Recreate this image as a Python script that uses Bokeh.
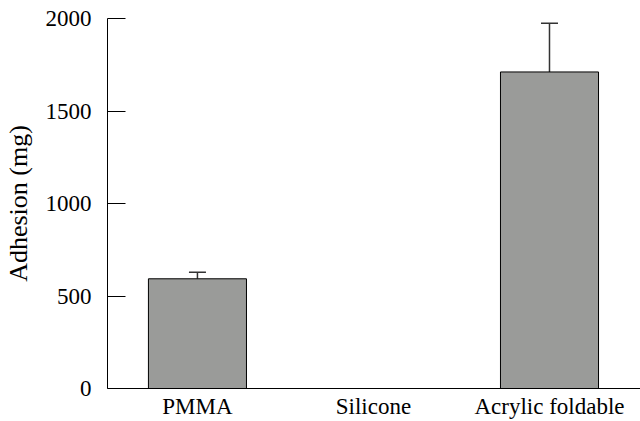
from bokeh.plotting import figure
from bokeh.models import ColumnDataSource, Range1d, FixedTicker, Whisker, TeeHead
from bokeh.embed import file_html
from bokeh.resources import INLINE

categories = ["PMMA", "Silicone", "Acrylic foldable"]
adhesion = [593, 0, 1711]
error_upper = [629, 0, 1974]
y_ticks = [0, 500, 1000, 1500, 2000]

xs = list(range(len(categories)))
has_err = [u > v for u, v in zip(error_upper, adhesion)]
src = ColumnDataSource(dict(x=xs, top=adhesion))
err_src = ColumnDataSource(dict(
    x=[x for x, h in zip(xs, has_err) if h],
    lower=[v for v, h in zip(adhesion, has_err) if h],
    upper=[u for u, h in zip(error_upper, has_err) if h],
))

FONT = "Liberation Serif"

p = figure(width=640, height=421, output_backend="svg", toolbar_location=None,
           x_range=Range1d(-0.511, 2.517), y_range=Range1d(0, 2000),
           min_border_left=107, min_border_right=0, min_border_top=18, min_border_bottom=33)
p.outline_line_color = None
p.xgrid.visible = False
p.ygrid.visible = False
p.background_fill_color = "white"
p.border_fill_color = "white"

p.vbar(x="x", top="top", width=0.557, bottom=0, source=src,
       fill_color="#9a9b99", line_color="black", line_width=1)

w = Whisker(base="x", lower="lower", upper="upper", source=err_src, dimension="height",
            line_color="#333333", line_width=1.5,
            upper_head=TeeHead(size=17, line_color="#333333", line_width=1.5),
            lower_head=None)
p.add_layout(w)

# y axis
ya = p.yaxis[0]
ya.ticker = FixedTicker(ticks=y_ticks)
ya.axis_label = "Adhesion (mg)"
ya.axis_label_text_font = FONT
ya.axis_label_text_font_size = "26px"
ya.axis_label_text_font_style = "normal"
ya.axis_label_text_color = "black"
ya.axis_label_standoff = 10
ya.major_label_text_font = FONT
ya.major_label_text_font_size = "23px"
ya.major_label_text_color = "black"
ya.major_label_standoff = 16
ya.major_tick_in = 18
ya.major_tick_out = 0
ya.minor_tick_line_color = None
ya.axis_line_color = "black"
ya.major_tick_line_color = "black"

# x axis
xa = p.xaxis[0]
xa.ticker = FixedTicker(ticks=xs)
xa.major_label_overrides = {i: c for i, c in zip(xs, categories)}
xa.major_label_text_font = FONT
xa.major_label_text_font_size = "23px"
xa.major_label_text_color = "black"
xa.major_label_standoff = 5
xa.major_tick_in = 0
xa.major_tick_out = 0
xa.minor_tick_line_color = None
xa.major_tick_line_color = None
xa.axis_line_color = "black"

open("out.html", "w").write(file_html(p, INLINE))
